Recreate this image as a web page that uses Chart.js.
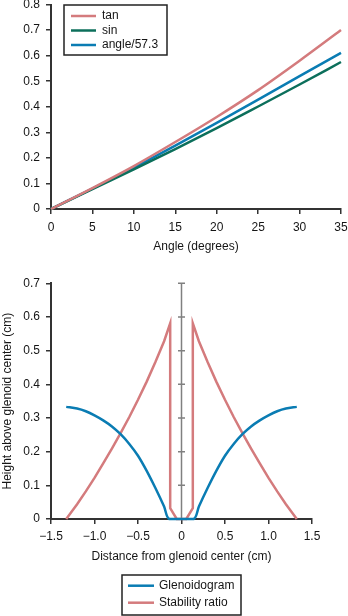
<!DOCTYPE html>
<html>
<head>
<meta charset="utf-8">
<script src="https://cdn.jsdelivr.net/npm/chart.js@4.4.1/dist/chart.umd.min.js"></script>
<style>
  body { margin: 0; background: #fff; }
  canvas { position: absolute; left: 0; }
  #angleChart { top: 0; }
  #glenoidChart { top: 262px; }
</style>
</head>
<body>
<canvas id="angleChart" width="348" height="262"></canvas>
<canvas id="glenoidChart" width="348" height="354"></canvas>
<script>
// tan / sin / radians against angle
const angles = [0, 5, 10, 15, 20, 25, 30, 35];
const tanValues = [0, 0.082, 0.168, 0.262, 0.360, 0.465, 0.580, 0.700];
const sinValues = [0, 0.078, 0.155, 0.234, 0.316, 0.401, 0.487, 0.575];
const radianValues = [0, 0.080, 0.162, 0.248, 0.337, 0.428, 0.520, 0.611];
const angleTicks = ['0', '5', '10', '15', '20', '25', '30', '35'];
const ratioTicks = ['0', '0.1', '0.2', '0.3', '0.4', '0.5', '0.6', '0.7', '0.8'];

// glenoidogram and stability ratio across the glenoid
const glenoidX = [-1.325, -1.2, -1.1, -1.0, -0.9, -0.8, -0.7, -0.6, -0.5, -0.4, -0.3, -0.2, -0.14,
                  0.14, 0.2, 0.3, 0.4, 0.5, 0.6, 0.7, 0.8, 0.9, 1.0, 1.1, 1.2, 1.325];
const glenoidY = [0.333, 0.328, 0.320, 0.308, 0.293, 0.275, 0.252, 0.223, 0.188, 0.143, 0.092, 0.037, 0,
                  0, 0.037, 0.092, 0.143, 0.188, 0.223, 0.252, 0.275, 0.293, 0.308, 0.320, 0.328, 0.333];
const stabilityX = [-1.325, -1.2, -1.1, -1.0, -0.9, -0.8, -0.7, -0.6, -0.5, -0.4, -0.3, -0.2, -0.13, -0.13, -0.055,
                    0.055, 0.13, 0.13, 0.2, 0.3, 0.4, 0.5, 0.6, 0.7, 0.8, 0.9, 1.0, 1.1, 1.2, 1.325];
const stabilityY = [0, 0.044, 0.082, 0.122, 0.165, 0.209, 0.255, 0.303, 0.354, 0.408, 0.466, 0.528, 0.581, 0.032, 0,
                    0, 0.032, 0.581, 0.528, 0.466, 0.408, 0.354, 0.303, 0.255, 0.209, 0.165, 0.122, 0.082, 0.044, 0];
const distanceTicks = ['\u22121.5', '\u22121.0', '\u22120.5', '0', '0.5', '1.0', '1.5'];
const heightTicks = ['0', '0.1', '0.2', '0.3', '0.4', '0.5', '0.6', '0.7'];

const FONT = '"Liberation Sans", Arial, Helvetica, sans-serif';
const INK = '#151515';
const RED = '#d47b7d';
const GREEN = '#0c6f5b';
const BLUE = '#0a7cb3';

Chart.defaults.font.family = FONT;
Chart.defaults.font.size = 12;
Chart.defaults.color = INK;

function points(xs, ys) {
    return xs.map((x, i) => ({ x: x, y: ys[i] }));
}

// legend drawn as a framed box with line samples
const boxLegend = {
    id: 'boxLegend',
    afterDraw(chart, args, opts) {
        const ctx = chart.ctx;
        ctx.save();
        ctx.fillStyle = '#fff';
        ctx.fillRect(opts.left, opts.top, opts.width, opts.height);
        ctx.lineWidth = 1.5;
        ctx.strokeStyle = '#222';
        ctx.strokeRect(opts.left, opts.top, opts.width, opts.height);
        ctx.font = '12px ' + FONT;
        ctx.textBaseline = 'middle';
        chart.data.datasets.forEach((ds, i) => {
            const y = opts.top + opts.firstRow + i * opts.rowGap;
            const x = opts.left + opts.inset;
            ctx.strokeStyle = ds.borderColor;
            ctx.lineWidth = ds.borderWidth;
            ctx.beginPath();
            ctx.moveTo(x, y);
            ctx.lineTo(x + opts.sample, y);
            ctx.stroke();
            ctx.fillStyle = INK;
            ctx.fillText(ds.label, x + opts.sample + opts.gap, y);
        });
        ctx.restore();
    }
};

// grey axis through x = 0 with ticks on both sides
const centerAxis = {
    id: 'centerAxis',
    beforeDatasetsDraw(chart) {
        const { ctx, chartArea, scales } = chart;
        const x0 = scales.x.getPixelForValue(0);
        ctx.save();
        ctx.strokeStyle = '#808080';
        ctx.lineWidth = 1.5;
        ctx.beginPath();
        ctx.moveTo(x0, chartArea.top);
        ctx.lineTo(x0, chartArea.bottom);
        scales.y.ticks.forEach(t => {
            const py = scales.y.getPixelForValue(t.value);
            ctx.moveTo(x0 - 3.5, py);
            ctx.lineTo(x0 + 3.5, py);
        });
        ctx.stroke();
        ctx.restore();
    }
};

function xAxis(min, max, step, labels, title, labelPad) {
    return {
        type: 'linear', min: min, max: max,
        afterFit: s => { s.height = 45.2; s.paddingLeft = 0; s.paddingRight = 0; },
        ticks: { stepSize: step, padding: labelPad, maxRotation: 0, autoSkip: false,
                 callback: (v, i) => labels[i] },
        grid: { drawOnChartArea: false, tickLength: 5, color: '#333', lineWidth: 1.5 },
        border: { color: '#333', width: 2 },
        title: { display: true, text: title, padding: 0, font: { size: 12 } }
    };
}

function yAxis(min, max, labels, title) {
    return {
        min: min, max: max,
        afterFit: s => { s.width = 51; s.paddingTop = 0; s.paddingBottom = 0; },
        ticks: { stepSize: 0.1, padding: 6, autoSkip: false, callback: (v, i) => labels[i] },
        grid: { drawOnChartArea: false, tickLength: 5, color: '#333', lineWidth: 1.5 },
        border: { color: '#333', width: 2 },
        title: { display: !!title, text: title || '', padding: 0, font: { size: 12 } }
    };
}

new Chart(document.getElementById('angleChart'), {
    type: 'line',
    data: {
        datasets: [
            { label: 'tan', data: points(angles, tanValues), borderColor: RED, borderWidth: 2.5 },
            { label: 'sin', data: points(angles, sinValues), borderColor: GREEN, borderWidth: 2.5 },
            { label: 'angle/57.3', data: points(angles, radianValues), borderColor: BLUE, borderWidth: 2.5 }
        ]
    },
    options: {
        responsive: false,
        animation: false,
        devicePixelRatio: 1,
        layout: { padding: { top: 4.5, right: 7, bottom: 7.8, left: 0 } },
        elements: { point: { radius: 0 }, line: { cubicInterpolationMode: 'monotone' } },
        datasets: { line: { clip: 4 } },
        scales: {
            x: xAxis(0, 35, 5, angleTicks, 'Angle (degrees)', 6),
            y: yAxis(0, 0.8, ratioTicks)
        },
        plugins: {
            legend: { display: false },
            tooltip: { enabled: false },
            boxLegend: { left: 64, top: 5, width: 103, height: 50, firstRow: 11, rowGap: 14.5,
                         inset: 7, sample: 25, gap: 6 }
        }
    },
    plugins: [boxLegend]
});

new Chart(document.getElementById('glenoidChart'), {
    type: 'line',
    data: {
        datasets: [
            // smoothed arc; bezier control points stay inside the chart area so the flat part keeps at 0
            { label: 'Glenoidogram', data: points(glenoidX, glenoidY), borderColor: BLUE, borderWidth: 2.5,
              tension: 0.3 },
            { label: 'Stability ratio', data: points(stabilityX, stabilityY), borderColor: RED, borderWidth: 2.5,
              tension: 0 }
        ]
    },
    options: {
        responsive: false,
        animation: false,
        devicePixelRatio: 1,
        layout: { padding: { top: 21.3, right: 36, bottom: 51.8, left: 0 } },
        elements: { point: { radius: 0 } },
        datasets: { line: { clip: 4 } },
        scales: {
            x: xAxis(-1.5, 1.5, 0.5, distanceTicks, 'Distance from glenoid center (cm)', 5.5),
            y: yAxis(0, 0.7, heightTicks, 'Height above glenoid center (cm)')
        },
        plugins: {
            legend: { display: false },
            tooltip: { enabled: false },
            boxLegend: { left: 122, top: 313, width: 119, height: 40, firstRow: 10.7, rowGap: 17,
                         inset: 6, sample: 26, gap: 5 }
        }
    },
    plugins: [boxLegend, centerAxis]
});
</script>
</body>
</html>
